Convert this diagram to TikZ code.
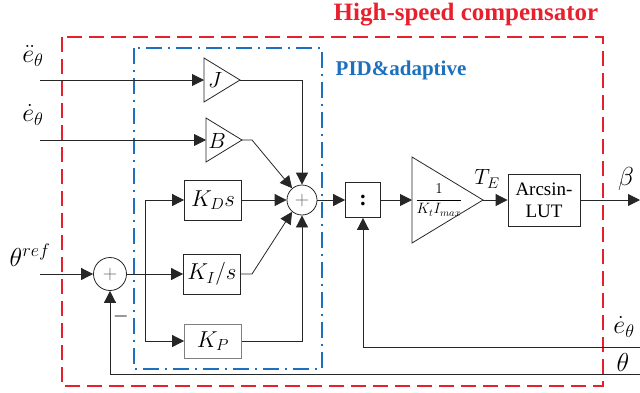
\RequirePackage{fix-cm}
\documentclass[tikz,border=0pt]{standalone}
\usepackage{fontspec}
\setmainfont{Liberation Serif}
\newfontfamily\tnr{Liberation Serif}
\usetikzlibrary{arrows.meta}
\definecolor{redc}{RGB}{232,32,45}
\definecolor{bluec}{RGB}{28,112,190}
\tikzset{
  sig/.style={draw=black!85,line width=0.8pt},
  arr/.style={sig,-{Triangle[length=12pt,width=12pt]}},
  blk/.style={draw=black!85,line width=0.8pt,minimum width=57pt,minimum height=40pt,inner sep=0pt,font=\fontsize{23}{25}\selectfont},
  sumc/.style={draw=black!85,line width=0.8pt,circle,inner sep=0pt,font=\fontsize{20}{20}\selectfont\color{black!60}},
  lbl/.style={font=\fontsize{26}{28}\selectfont,inner sep=0pt},
}
\begin{document}
\begin{tikzpicture}[x=1pt,y=-1pt]
\useasboundingbox (0,0) rectangle (640,392);
% frames
\draw[redc,line width=1.5pt,dash pattern=on 15pt off 7pt] (62,37) rectangle (603,386);
\draw[bluec,line width=1.5pt,dash pattern=on 16pt off 6pt on 2pt off 6pt] (134,48) rectangle (322,369);
\node[text=redc,font=\tnr\fontsize{25}{27}\selectfont\bfseries] (title) at (466,15) {High-speed compensator};
\node[text=bluec,font=\tnr\fontsize{21}{23}\selectfont\bfseries] (pid) at (401,70) {PID\&adaptive};
% input labels
\node[lbl] (l1) at (33,56) {$\ddot{e}_{\theta}$};
\node[lbl] (l2) at (33,115) {$\dot{e}_{\theta}$};
\node[lbl] (l3) at (30,255) {$\theta^{ref}$};
\coordinate (in1) at (40,80);
\coordinate (in2) at (40,140);
\coordinate (in3) at (40,274);
% J triangle
\draw[sig] (204,58) -- (240,80) -- (204,102) -- cycle;
\coordinate (Jin) at (204,80);
\coordinate (Jout) at (240,80);
\node[lbl,font=\fontsize{22}{24}\selectfont] (J) at (215,80) {$J$};
% B triangle
\draw[sig] (206,118) -- (242,140) -- (206,162) -- cycle;
\coordinate (Bin) at (206,140);
\coordinate (Bout) at (242,140);
\node[lbl,font=\fontsize{22}{24}\selectfont] (B) at (217,141) {$B$};
% blocks
\node[blk] (KD) at (213,200) {$K_D s$};
\node[blk] (KI) at (212,274) {$K_I/s$};
\node[blk,draw=black!50,minimum height=34pt] (KP) at (213,341) {$K_P$};
% sums
\node[sumc,minimum size=30pt] (S) at (302,200) {$+$};
\node[sumc,minimum size=33pt] (s2) at (110,274) {$+$};
\node[font=\fontsize{20}{20}\selectfont\bfseries] (minus) at (121,316) {$-$};
% divider
\node[draw=black!85,line width=0.8pt,minimum size=35pt,inner sep=0pt,font=\tnr\fontsize{22}{22}\selectfont\bfseries] (div) at (363,200) {:};
% gain triangle
\draw[sig] (412,157) -- (483,200) -- (412,243) -- cycle;
\coordinate (Gin) at (412,200);
\coordinate (Gout) at (483,200);
\node[font=\fontsize{15}{16}\selectfont,inner sep=0pt] (G) at (439,200) {$\displaystyle\frac{1}{K_t I_{max}}$};
\node[lbl,font=\fontsize{22}{24}\selectfont] (TE) at (487,179) {$T_E$};
% LUT
\node[draw=black!85,line width=0.8pt,minimum width=72pt,minimum height=52pt,inner sep=0pt,align=center,font=\tnr\fontsize{19}{22}\selectfont] (LUT) at (544,200) {Arcsin-\\LUT};
\coordinate (out) at (640,200);
\node[lbl] (beta) at (626,179) {$\beta$};
% feedback
\coordinate (fb1) at (640,347);
\coordinate (fb2) at (640,374);
\node[lbl] (l4) at (624,327) {$\dot{e}_{\theta}$};
\node[lbl] (l5) at (623,362) {$\theta$};
\coordinate (br) at (145,274);
% connectors
\draw[arr] (in1) -- (Jin);
\draw[arr] (in2) -- (Bin);
\draw[arr] (in3) -- (s2.west);
\draw[arr] (Jout) -- (Jout -| S.north) -- (S.north);
\draw[arr] (Bout) -- (252,140) -- (S.130);
\draw[arr] (KD.east) -- (S.west);
\draw[arr] (KI.east) -- (252,274) -- (S.230);
\draw[arr] (KP.east) -- (KP.east -| S.south) -- (S.south);
\draw[sig] (s2.east) -- (br);
\draw[arr] (br) -- (KI.west);
\draw[arr] (br) |- (KD.west);
\draw[arr] (br) |- (KP.west);
\draw[arr] (S.east) -- (div.west);
\draw[arr] (div.east) -- (Gin);
\draw[arr] (Gout) -- (LUT.west);
\draw[arr] (LUT.east) -- (out);
\draw[arr] (fb1) -| (div.south);
\draw[arr] (fb2) -| (s2.south);
\end{tikzpicture}
\end{document}
